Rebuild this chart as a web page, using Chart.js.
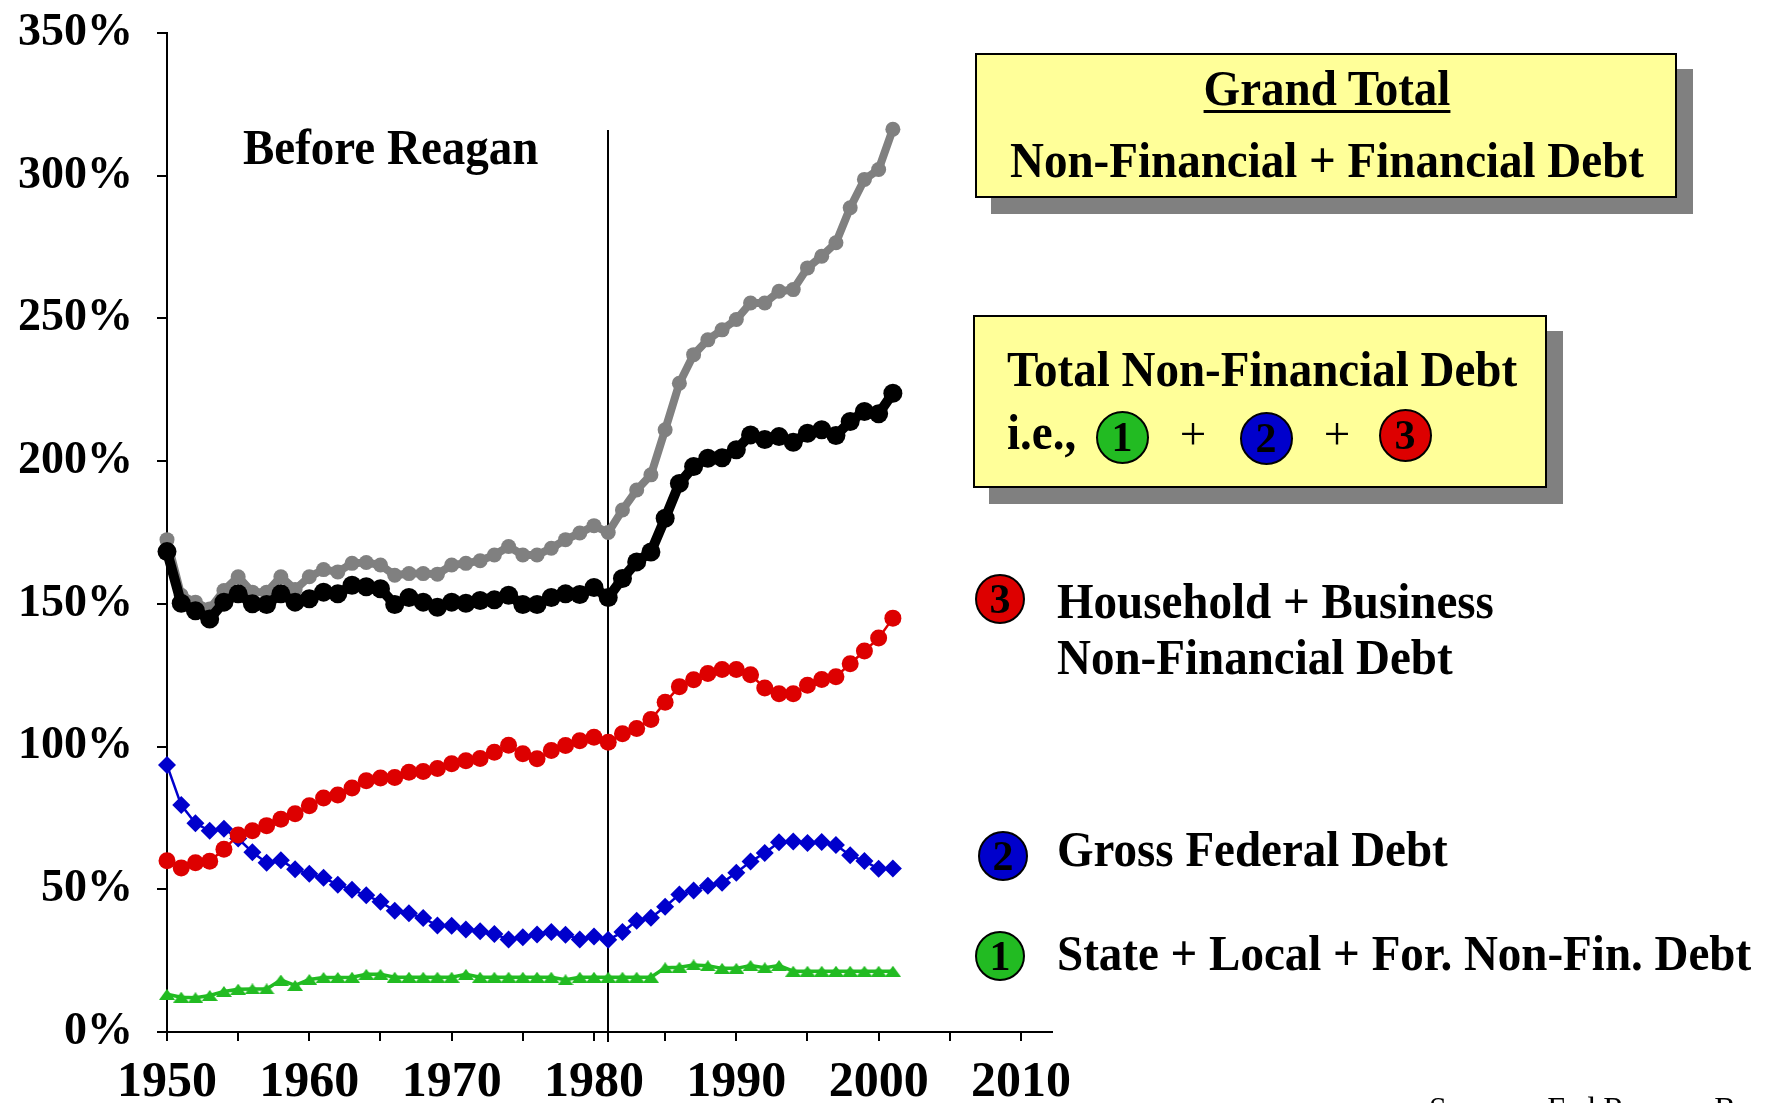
<!DOCTYPE html>
<html>
<head>
<meta charset="utf-8">
<script src="https://cdn.jsdelivr.net/npm/chart.js@4.4.0/dist/chart.umd.min.js"></script>
<style>
html,body{margin:0;padding:0;background:#fff;overflow:hidden;}
#wrap{position:relative;width:1772px;height:1103px;overflow:hidden;background:#fff;}
#c{position:absolute;left:0;top:0;}
.t{position:absolute;white-space:nowrap;font-family:"Liberation Serif","Times New Roman",serif;font-weight:bold;color:#000;line-height:1;}
.box{position:absolute;background:#FFFF99;border:2px solid #000;box-sizing:border-box;box-shadow:16px 16px 0 #808080;}
.num{position:absolute;border:2px solid #000;border-radius:50%;box-sizing:border-box;display:flex;align-items:center;justify-content:center;font-family:"Liberation Serif",serif;font-weight:bold;color:#000;line-height:1;}
</style>
</head>
<body>
<div id="wrap"><canvas id="c" width="1772" height="1103"></canvas></div>
<script>
// ---------- DATA ----------
const years = [1950,1951,1952,1953,1954,1955,1956,1957,1958,1959,
               1960,1961,1962,1963,1964,1965,1966,1967,1968,1969,
               1970,1971,1972,1973,1974,1975,1976,1977,1978,1979,
               1980,1981,1982,1983,1984,1985,1986,1987,1988,1989,
               1990,1991,1992,1993,1994,1995,1996,1997,1998,1999,
               2000,2001];

// Grand Total: Non-Financial + Financial Debt (% of GDP)
const grandTotal = [172.5,153,150.6,148.2,154.7,159.5,154.1,154.1,159.5,155,
                    159.5,162,161.2,164.2,164.5,163.6,160,160.6,160.6,160.4,
                    163.6,164.2,165.1,167.1,170.1,167.1,167.1,169.5,172.5,174.8,
                    177.4,175,182.9,189.9,195.2,211,227.3,237.3,242.5,246,
                    249.6,255.4,255.4,259.5,260.1,267.7,271.8,276.5,288.8,298.7,
                    302.2,316.3];

// Total Non-Financial Debt
const totalNonFinancial = [168.3,150.2,147.6,144.7,150.6,153.5,150,149.8,153.5,150.6,
                           151.8,154.1,153.5,156.5,156,155.3,149.8,152.2,150.6,148.8,
                           150.6,150.2,151.2,151.4,153,149.8,149.8,152.2,153.5,153.3,
                           155.7,152.2,158.9,164.7,168.2,180,192.2,198.1,201,201.2,
                           204,209.2,207.6,208.6,206.6,209.8,211,209,213.9,217.4,
                           216.6,223.8];

// (3) Household + Business Non-Financial Debt
const householdBusiness = [60,57.5,59.3,59.8,64,69,70.5,72.3,74.5,76.5,
                           79.3,82,83,85.5,88,89,89.2,91,91.3,92.3,
                           94,95,95.8,98,100.5,97.5,95.7,98.6,100.4,102,
                           103.3,101.5,104.5,106.3,109.5,115.5,121,123.4,125.6,127,
                           127,125.2,120.5,118.5,118.5,121.5,123.5,124.5,129,133.5,
                           138,145];

// (2) Gross Federal Debt
const grossFederal = [93.5,79.5,73.1,70.5,71.2,67.8,63,59.3,60.2,57,
                      55.4,54,51.6,49.8,47.9,45.6,42.5,41.6,39.9,37.3,
                      37.2,35.9,35.3,34.3,32.4,33.2,34.2,35,34.1,32.4,
                      33.5,32.3,35,39,40,43.9,48.2,49.6,51.2,52.3,
                      55.8,59.7,62.7,66.5,66.7,66.2,66.6,65.5,61.9,59.9,
                      57.2,57.3];

// (1) State + Local + Foreign Non-Financial Debt
const stateLocalForeign = [13.2,12.2,12,12.8,14.2,15,15.1,15.1,18.2,16.3,
                           18.4,19.1,19.1,19.2,20.2,20.2,19.2,19.2,19.2,19.2,
                           19.2,20.2,19.2,19.2,19.2,19.2,19.2,19.2,18.3,19.2,
                           19.2,19.2,19.2,19.2,19.2,22.5,22.7,23.5,23.2,22.3,
                           22.3,23.3,22.5,23.3,21.3,21.3,21.3,21.3,21.3,21.3,
                           21.3,21.3];

const xTickYears  = [1950,1955,1960,1965,1970,1975,1980,1985,1990,1995,2000,2005,2010];
const xTickLabels = ['1950','','1960','','1970','','1980','','1990','','2000','','2010'];
const yTickValues = [0,50,100,150,200,250,300,350];
const yTickLabels = ['0%','50%','100%','150%','200%','250%','300%','350%'];

const reaganYear = 1981;
const reaganLineTop = 316;

// ---------- CHART ----------
const pts = arr => years.map((yr, i) => ({x: yr, y: arr[i]}));

// flat triangle marker used by the green series
function flatTriangle(w, h, color) {
  const c = document.createElement('canvas');
  c.width = w; c.height = h;
  const g = c.getContext('2d');
  g.fillStyle = color;
  g.beginPath();
  g.moveTo(w / 2, 0); g.lineTo(w, h); g.lineTo(0, h);
  g.closePath(); g.fill();
  return c;
}
const greenTri = flatTriangle(16, 11, '#22BB22');

const reaganLine = {
  id: 'reaganLine',
  beforeDatasetsDraw(chart) {
    const {ctx, scales: {x, y}} = chart;
    const px = Math.round(x.getPixelForValue(reaganYear));
    ctx.save();
    ctx.strokeStyle = '#000';
    ctx.lineWidth = 2;
    ctx.beginPath();
    ctx.moveTo(px, y.getPixelForValue(reaganLineTop));
    ctx.lineTo(px, y.bottom + 10);
    ctx.stroke();
    ctx.restore();
  }
};

const serif = '"Liberation Serif", "Times New Roman", serif';

new Chart(document.getElementById('c'), {
  type: 'line',
  data: {
    datasets: [
      {label: 'Total Non-Financial Debt', data: pts(totalNonFinancial),
       borderColor: '#000000', backgroundColor: '#000000', borderWidth: 10,
       pointRadius: 9.5, pointBackgroundColor: '#000000', pointBorderColor: '#000000', pointBorderWidth: 0, clip: false},
      {label: 'Grand Total', data: pts(grandTotal),
       borderColor: '#808080', backgroundColor: '#808080', borderWidth: 8,
       pointRadius: 7.5, pointBackgroundColor: '#808080', pointBorderColor: '#808080', pointBorderWidth: 0, clip: false},
      {label: 'Household + Business Non-Financial Debt', data: pts(householdBusiness),
       borderColor: '#DD0000', backgroundColor: '#DD0000', borderWidth: 2.5,
       pointRadius: 8.5, pointBackgroundColor: '#DD0000', pointBorderColor: '#DD0000', pointBorderWidth: 0, clip: false},
      {label: 'Gross Federal Debt', data: pts(grossFederal),
       borderColor: '#0000CC', backgroundColor: '#0000CC', borderWidth: 2.5, pointStyle: 'rectRot',
       pointRadius: 9, pointBackgroundColor: '#0000CC', pointBorderColor: '#0000CC', pointBorderWidth: 0, clip: false},
      {label: 'State + Local + For. Non-Fin. Debt', data: pts(stateLocalForeign),
       borderColor: '#22BB22', backgroundColor: '#22BB22', borderWidth: 3.5, pointStyle: greenTri,
       pointRadius: 8, pointBackgroundColor: '#22BB22', pointBorderColor: '#22BB22', pointBorderWidth: 0, clip: false}
    ]
  },
  options: {
    responsive: false,
    animation: false,
    devicePixelRatio: 1,
    layout: {padding: {left: 0, top: 33, right: 720, bottom: 0}},
    plugins: {legend: {display: false}, tooltip: {enabled: false}},
    elements: {line: {tension: 0}},
    scales: {
      x: {
        type: 'linear', min: 1950, max: 2012.18,
        afterBuildTicks: s => { s.ticks = xTickYears.map(v => ({value: v})); },
        afterFit: s => { s.height = 71; s.paddingLeft = 0; s.paddingRight = 0; },
        grid: {display: true, drawOnChartArea: false, drawTicks: true, tickLength: 9, color: '#000', lineWidth: 2},
        border: {display: true, color: '#000', width: 2},
        ticks: {autoSkip: false, maxRotation: 0, minRotation: 0, padding: 12, color: '#000',
                font: {family: serif, size: 50, weight: 'bold'},
                callback: (v, i) => xTickLabels[i]}
      },
      y: {
        type: 'linear', min: 0, max: 350,
        afterBuildTicks: s => { s.ticks = yTickValues.map(v => ({value: v})); },
        afterFit: s => { s.width = 167; s.paddingTop = 0; s.paddingBottom = 0; },
        grid: {display: true, drawOnChartArea: false, drawTicks: true, tickLength: 10, color: '#000', lineWidth: 2},
        border: {display: true, color: '#000', width: 2},
        ticks: {padding: 24, color: '#000', font: {family: serif, size: 46, weight: 'bold'},
                callback: (v, i) => yTickLabels[i]}
      }
    }
  },
  plugins: [reaganLine]
});

// ---------- ANNOTATIONS (HTML text) ----------
const wrap = document.getElementById('wrap');
const SQ = 0.94; // horizontal condensing of the bold serif lettering
function addText(str, x, baseline, size, opts) {
  opts = opts || {};
  const d = document.createElement('div');
  d.className = 't';
  d.textContent = str;
  d.style.fontSize = size + 'px';
  d.style.top = (baseline - 0.8375 * size) + 'px';
  d.style.left = x + 'px';
  const sq = opts.sq === undefined ? SQ : opts.sq;
  if (opts.center) {
    d.style.transformOrigin = '50% 50%';
    d.style.transform = 'translateX(-50%) scaleX(' + sq + ')';
  } else {
    d.style.transformOrigin = '0 50%';
    d.style.transform = 'scaleX(' + sq + ')';
  }
  if (opts.weight) d.style.fontWeight = opts.weight;
  if (opts.underline) {
    d.style.textDecoration = 'underline';
    d.style.textDecorationThickness = '3px';
    d.style.textUnderlineOffset = '5px';
  }
  wrap.appendChild(d);
  return d;
}
function addBox(x, y, w, h) {
  const b = document.createElement('div');
  b.className = 'box';
  Object.assign(b.style, {left: x + 'px', top: y + 'px', width: w + 'px', height: h + 'px'});
  wrap.appendChild(b);
}
function addNum(n, cx, cy, d, color, fs) {
  const c = document.createElement('div');
  c.className = 'num';
  c.textContent = n;
  Object.assign(c.style, {left: (cx - d / 2) + 'px', top: (cy - d / 2) + 'px', width: d + 'px', height: d + 'px',
                          background: color, fontSize: fs + 'px'});
  wrap.appendChild(c);
}

addText('Before Reagan', 243, 164, 50);

addBox(975, 53, 702, 145);
addText('Grand Total', 1327, 105, 50, {center: true, underline: true});
addText('Non-Financial + Financial Debt', 1327, 177, 50, {center: true});

addBox(973, 315, 574, 173);
addText('Total Non-Financial Debt', 1007, 386, 50);
addText('i.e.,', 1007, 449, 50);
addNum('1', 1122, 437, 53, '#22BB22', 42);
addText('+', 1193, 449, 47, {center: true, weight: 'normal', sq: 1});
addNum('2', 1266, 438, 53, '#0000CC', 42);
addText('+', 1337, 449, 47, {center: true, weight: 'normal', sq: 1});
addNum('3', 1405, 435, 53, '#DD0000', 42);

addNum('3', 1000, 599, 50, '#DD0000', 42);
addText('Household + Business', 1057, 618, 50);
addText('Non-Financial Debt', 1057, 674, 50);
addNum('2', 1003, 856, 50, '#0000CC', 42);
addText('Gross Federal Debt', 1057, 866, 50);
addNum('1', 1000, 956, 50, '#22BB22', 42);
addText('State + Local + For. Non-Fin. Debt', 1057, 970, 50);

addText('Sources: Fed Reserve Board', 1429, 1119, 32, {weight: 'normal', sq: 1});
</script>
</body>
</html>
